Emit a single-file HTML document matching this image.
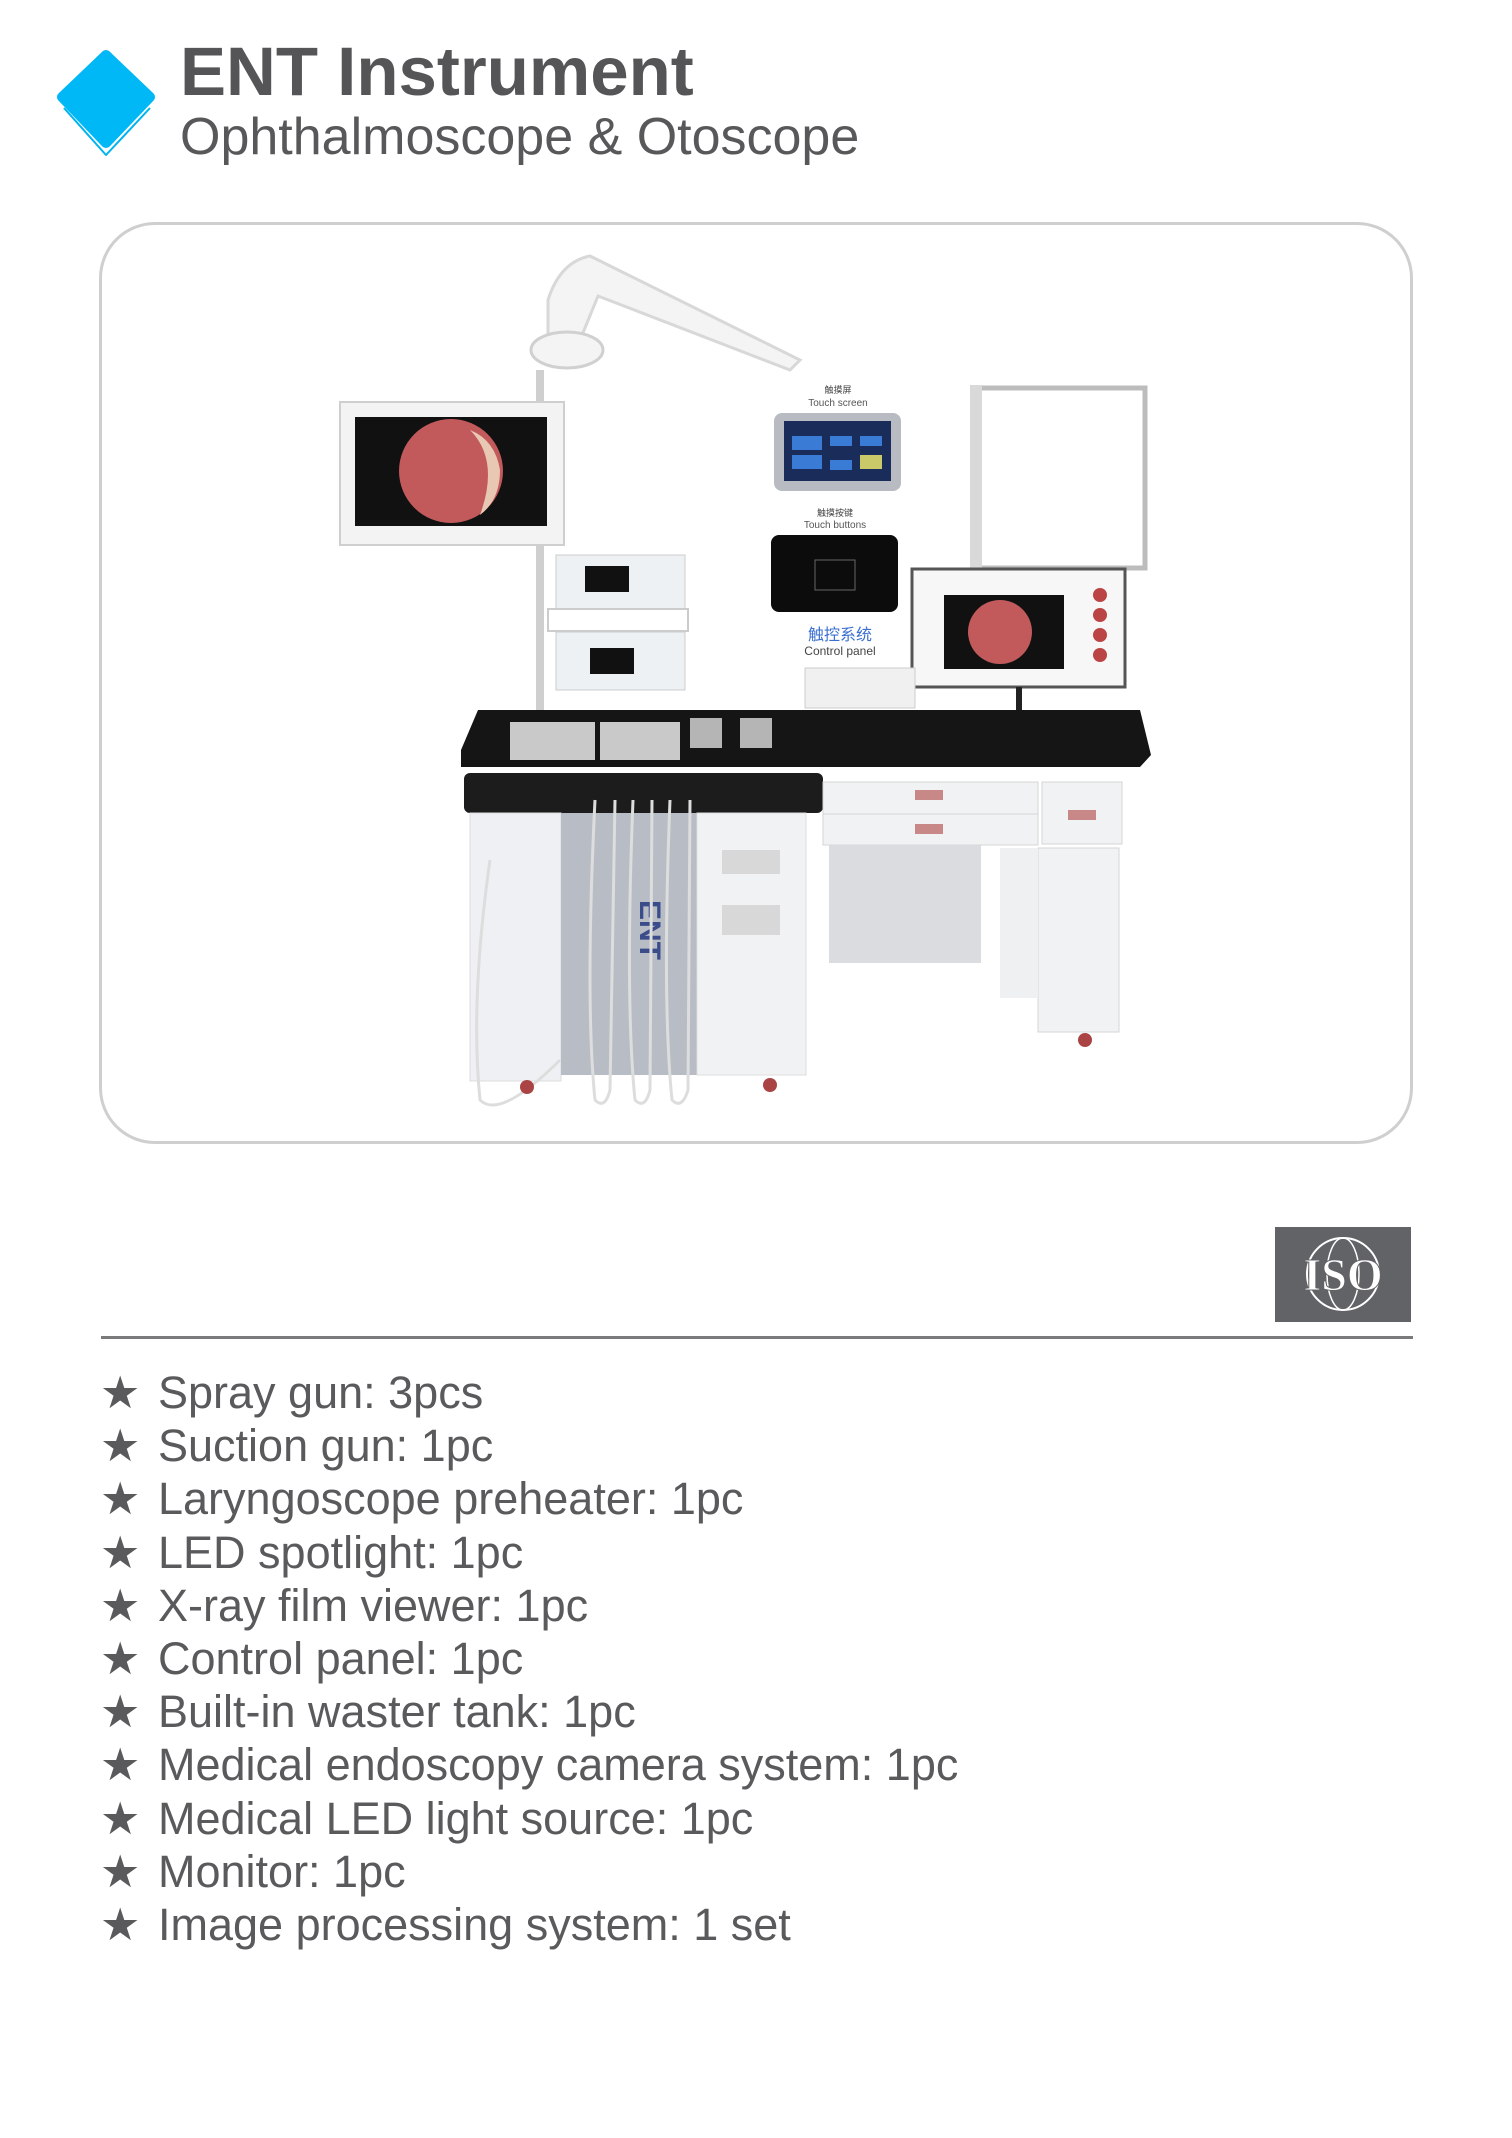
<!DOCTYPE html>
<html><head><meta charset="utf-8"><style>
html,body{margin:0;padding:0;background:#fff;}
body{width:1512px;height:2138px;position:relative;overflow:hidden;font-family:"Liberation Sans",Arial,sans-serif;color:#58585a;}
.t1{position:absolute;left:180px;top:37px;font-size:69px;font-weight:bold;line-height:1;color:#555557;white-space:nowrap;}
.t2{position:absolute;left:180px;top:111px;font-size:52px;line-height:1;color:#58585a;white-space:nowrap;}
.box{position:absolute;left:99px;top:222px;width:1308px;height:916px;border:3px solid #cfcfcf;border-radius:56px;}
.iso{position:absolute;left:1275px;top:1227px;width:136px;height:95px;background:#626366;}
.line{position:absolute;left:101px;top:1336px;width:1312px;height:3px;background:#7a7a7c;}
.items{position:absolute;left:100px;top:1366px;font-size:45px;line-height:53.2px;color:#5a5a5c;white-space:nowrap;}
.items div span{display:inline-block;width:58px;}
</style></head><body>
<svg style="position:absolute;left:0;top:0" width="300" height="200">
<polygon points="106,55 150,97 106,143 62,97" fill="#00b8f5" stroke="#00b8f5" stroke-width="10" stroke-linejoin="round"/>
<polyline points="64,108 106,155 150,108" fill="none" stroke="#00b4f0" stroke-width="2" stroke-linejoin="round"/>
</svg>
<div class="t1">ENT Instrument</div>
<div class="t2">Ophthalmoscope &amp; Otoscope</div>
<div class="box"></div>
<svg style="position:absolute;left:0;top:0" width="1512" height="1160">
<path d="M548,340 L548,300 Q560,262 590,256 L800,360 L790,370 L598,296 L578,345" fill="#f4f4f4" stroke="#d8d8d8" stroke-width="3"/>
<ellipse cx="567" cy="350" rx="36" ry="18" fill="#f4f4f4" stroke="#d0d0d0" stroke-width="3"/>
<rect x="536" y="370" width="8" height="340" fill="#cfcfcf"/>
<rect x="340" y="402" width="224" height="143" fill="#f3f3f3" stroke="#cfcfcf" stroke-width="2"/>
<rect x="355" y="417" width="192" height="109" fill="#111"/>
<circle cx="451" cy="471" r="52" fill="#c25a5c"/>
<path d="M470,430 Q500,460 480,515 Q500,500 500,470 Q495,440 470,430Z" fill="#e8c7b3"/>
<rect x="556" y="555" width="129" height="54" fill="#eef1f4" stroke="#ccc"/>
<rect x="585" y="566" width="44" height="26" fill="#111"/>
<rect x="556" y="632" width="129" height="58" fill="#eef1f4" stroke="#ccc"/>
<rect x="590" y="648" width="44" height="26" fill="#111"/>
<rect x="548" y="609" width="140" height="22" fill="none" stroke="#ccc" stroke-width="2"/>
<text x="838" y="393" font-size="9" fill="#444" text-anchor="middle" font-family="Noto Sans CJK SC,sans-serif">触摸屏</text>
<text x="838" y="406" font-size="10" fill="#555" text-anchor="middle">Touch screen</text>
<rect x="774" y="413" width="127" height="78" rx="8" fill="#b8bcc2"/>
<rect x="784" y="421" width="107" height="60" fill="#1a2d5a"/>
<rect x="792" y="436" width="30" height="14" fill="#3a7bd5"/><rect x="830" y="436" width="22" height="10" fill="#3a7bd5"/><rect x="860" y="436" width="22" height="10" fill="#3a7bd5"/>
<rect x="792" y="455" width="30" height="14" fill="#3a7bd5"/><rect x="830" y="460" width="22" height="10" fill="#3a7bd5"/><rect x="860" y="455" width="22" height="14" fill="#c9c96a"/>
<text x="835" y="516" font-size="9" fill="#444" text-anchor="middle" font-family="Noto Sans CJK SC,sans-serif">触摸按键</text>
<text x="835" y="528" font-size="10" fill="#555" text-anchor="middle">Touch buttons</text>
<rect x="771" y="535" width="127" height="77" rx="8" fill="#0c0c0c"/>
<rect x="815" y="560" width="40" height="30" fill="none" stroke="#666"/>
<text x="840" y="640" font-size="16" fill="#3a6fd0" text-anchor="middle" font-family="Noto Sans CJK SC,sans-serif">触控系统</text>
<text x="840" y="655" font-size="12" fill="#444" text-anchor="middle">Control panel</text>
<rect x="975" y="388" width="170" height="180" fill="#fff" stroke="#bcbcbc" stroke-width="5"/>
<rect x="970" y="385" width="12" height="190" fill="#d9d9d9"/>
<rect x="912" y="569" width="213" height="118" fill="#f7f7f7" stroke="#555" stroke-width="3"/>
<rect x="944" y="595" width="120" height="74" fill="#111"/>
<circle cx="1000" cy="632" r="32" fill="#c25a5c"/>
<circle cx="1100" cy="595" r="7" fill="#b44"/><circle cx="1100" cy="615" r="7" fill="#b44"/><circle cx="1100" cy="635" r="7" fill="#b44"/><circle cx="1100" cy="655" r="7" fill="#b44"/>
<rect x="1016" y="687" width="6" height="40" fill="#222"/>
<ellipse cx="1020" cy="730" rx="38" ry="7" fill="#222"/>
<rect x="805" y="668" width="110" height="40" fill="#f0f0f0" stroke="#ccc"/>
<polygon points="478,710 1140,710 1151,755 1140,767 461,767 461,750" fill="#151515"/>
<rect x="510" y="722" width="85" height="38" fill="#c9c9c9"/><rect x="600" y="722" width="80" height="38" fill="#c9c9c9"/>
<rect x="690" y="718" width="32" height="30" fill="#b5b5b5"/><rect x="740" y="718" width="32" height="30" fill="#b5b5b5"/>
<rect x="464" y="773" width="359" height="40" rx="6" fill="#1c1c1c"/>
<rect x="470" y="813" width="91" height="268" fill="#eef0f3" stroke="#ddd"/>
<rect x="561" y="813" width="136" height="262" fill="#b8bcc5"/>
<text x="640" y="900" font-size="30" font-weight="bold" fill="#3a4c8a" transform="rotate(90 640 900)">ENT</text>
<path d="M595,800 Q585,1000 595,1100 Q605,1110 610,1090 L615,800" fill="none" stroke="#ddd" stroke-width="3"/>
<path d="M633,800 Q625,1000 635,1100 Q645,1110 650,1090 L652,800" fill="none" stroke="#ddd" stroke-width="3"/>
<path d="M670,800 Q662,1000 672,1100 Q682,1110 688,1090 L690,800" fill="none" stroke="#ddd" stroke-width="3"/>
<path d="M490,860 Q470,1000 480,1100 Q500,1120 560,1060" fill="none" stroke="#ddd" stroke-width="3"/>
<rect x="697" y="813" width="109" height="262" fill="#f1f2f4" stroke="#ddd"/>
<rect x="722" y="850" width="58" height="24" fill="#d8d8d8"/><rect x="722" y="905" width="58" height="30" fill="#d8d8d8"/>
<rect x="823" y="782" width="215" height="32" fill="#f1f2f4" stroke="#d5d5d5"/>
<rect x="823" y="814" width="215" height="31" fill="#f1f2f4" stroke="#d5d5d5"/>
<rect x="1042" y="782" width="80" height="62" fill="#f1f2f4" stroke="#d5d5d5"/>
<rect x="915" y="790" width="28" height="10" fill="#c98888"/><rect x="915" y="824" width="28" height="10" fill="#c98888"/><rect x="1068" y="810" width="28" height="10" fill="#c98888"/>
<rect x="829" y="845" width="152" height="118" fill="#dadce0"/>
<rect x="1038" y="848" width="81" height="184" fill="#f1f2f4" stroke="#d5d5d5"/>
<rect x="1000" y="848" width="38" height="150" fill="#eef0f2"/>
<circle cx="527" cy="1087" r="7" fill="#a44"/><circle cx="770" cy="1085" r="7" fill="#a44"/><circle cx="1085" cy="1040" r="7" fill="#a44"/>
</svg>
<div class="iso"><svg width="136" height="95"><circle cx="68" cy="47" r="36" fill="none" stroke="#fff" stroke-width="2"/><ellipse cx="68" cy="47" rx="16" ry="36" fill="none" stroke="#fff" stroke-width="1.5"/><text x="68" y="63" font-family="Liberation Serif,serif" font-weight="bold" font-size="46" fill="#fff" text-anchor="middle" stroke="#626366" stroke-width="1">ISO</text></svg></div>
<div class="line"></div>
<div class="items">
<div><span>★</span>Spray gun: 3pcs</div>
<div><span>★</span>Suction gun: 1pc</div>
<div><span>★</span>Laryngoscope preheater: 1pc</div>
<div><span>★</span>LED spotlight: 1pc</div>
<div><span>★</span>X-ray film viewer: 1pc</div>
<div><span>★</span>Control panel: 1pc</div>
<div><span>★</span>Built-in waster tank: 1pc</div>
<div><span>★</span>Medical endoscopy camera system: 1pc</div>
<div><span>★</span>Medical LED light source: 1pc</div>
<div><span>★</span>Monitor: 1pc</div>
<div><span>★</span>Image processing system: 1 set</div>
</div>
</body></html>
